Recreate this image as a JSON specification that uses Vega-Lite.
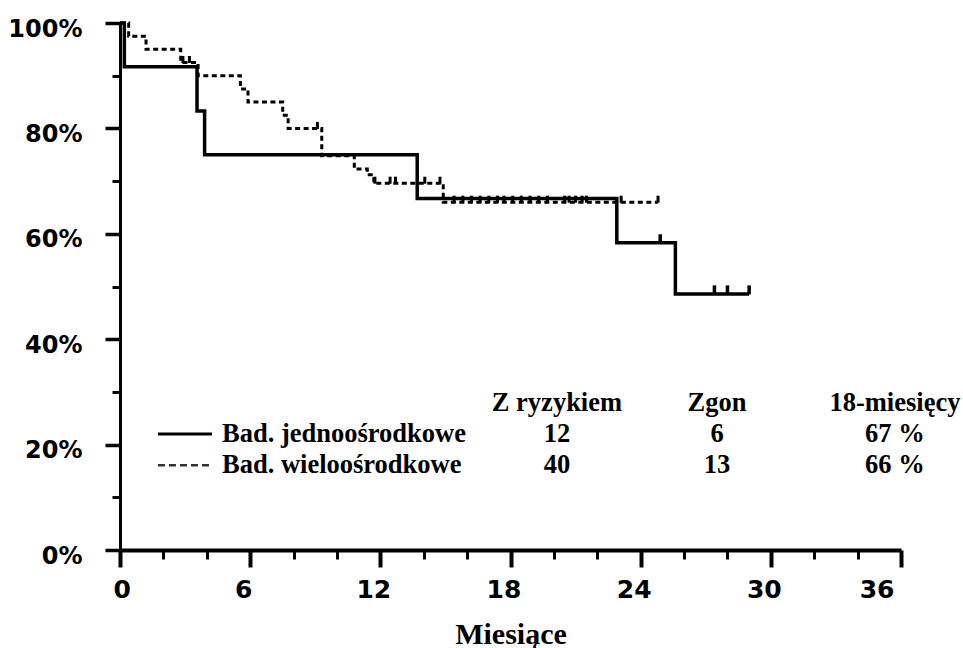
{
  "$schema": "https://vega.github.io/schema/vega-lite/v6.json",
  "width": 781,
  "height": 527,
  "autosize": {"type": "none"},
  "padding": {"left": 120, "top": 23, "right": 62, "bottom": 98},
  "background": "white",
  "config": {
    "view": {"stroke": null},
    "axis": {"grid": false, "domainColor": "black", "tickColor": "black", "labelColor": "black", "titleColor": "black"}
  },
  "datasets": {
    "km": [
      {"group": "Bad. jednoośrodkowe", "month": 0, "survival": 100},
      {"group": "Bad. jednoośrodkowe", "month": 0.2, "survival": 91.7},
      {"group": "Bad. jednoośrodkowe", "month": 3.55, "survival": 83.3},
      {"group": "Bad. jednoośrodkowe", "month": 3.9, "survival": 75},
      {"group": "Bad. jednoośrodkowe", "month": 13.7, "survival": 66.7},
      {"group": "Bad. jednoośrodkowe", "month": 22.9, "survival": 58.3},
      {"group": "Bad. jednoośrodkowe", "month": 25.6, "survival": 48.6},
      {"group": "Bad. jednoośrodkowe", "month": 29.0, "survival": 48.6},
      {"group": "Bad. wieloośrodkowe", "month": 0, "survival": 100},
      {"group": "Bad. wieloośrodkowe", "month": 0.4, "survival": 97.5},
      {"group": "Bad. wieloośrodkowe", "month": 1.2, "survival": 95},
      {"group": "Bad. wieloośrodkowe", "month": 2.8, "survival": 92.5},
      {"group": "Bad. wieloośrodkowe", "month": 3.6, "survival": 90},
      {"group": "Bad. wieloośrodkowe", "month": 5.55, "survival": 87.5},
      {"group": "Bad. wieloośrodkowe", "month": 5.9, "survival": 85},
      {"group": "Bad. wieloośrodkowe", "month": 7.5, "survival": 82.5},
      {"group": "Bad. wieloośrodkowe", "month": 7.75, "survival": 80},
      {"group": "Bad. wieloośrodkowe", "month": 9.3, "survival": 74.8},
      {"group": "Bad. wieloośrodkowe", "month": 10.8, "survival": 72.3},
      {"group": "Bad. wieloośrodkowe", "month": 11.4, "survival": 71.2},
      {"group": "Bad. wieloośrodkowe", "month": 11.7, "survival": 69.6},
      {"group": "Bad. wieloośrodkowe", "month": 14.9, "survival": 66},
      {"group": "Bad. wieloośrodkowe", "month": 24.8, "survival": 66}
    ],
    "censored": [
      {"group": "Bad. jednoośrodkowe", "month": 24.9, "survival": 58.3},
      {"group": "Bad. jednoośrodkowe", "month": 27.4, "survival": 48.6},
      {"group": "Bad. jednoośrodkowe", "month": 28.0, "survival": 48.6},
      {"group": "Bad. jednoośrodkowe", "month": 29.0, "survival": 48.6},
      {"group": "Bad. wieloośrodkowe", "month": 2.9, "survival": 92.5},
      {"group": "Bad. wieloośrodkowe", "month": 3.2, "survival": 92.5},
      {"group": "Bad. wieloośrodkowe", "month": 9.1, "survival": 80},
      {"group": "Bad. wieloośrodkowe", "month": 11.75, "survival": 69.6},
      {"group": "Bad. wieloośrodkowe", "month": 12.45, "survival": 69.6},
      {"group": "Bad. wieloośrodkowe", "month": 12.7, "survival": 69.6},
      {"group": "Bad. wieloośrodkowe", "month": 14.05, "survival": 69.6},
      {"group": "Bad. wieloośrodkowe", "month": 14.75, "survival": 69.6},
      {"group": "Bad. wieloośrodkowe", "month": 15.4, "survival": 66},
      {"group": "Bad. wieloośrodkowe", "month": 15.8, "survival": 66},
      {"group": "Bad. wieloośrodkowe", "month": 16.2, "survival": 66},
      {"group": "Bad. wieloośrodkowe", "month": 16.6, "survival": 66},
      {"group": "Bad. wieloośrodkowe", "month": 17.0, "survival": 66},
      {"group": "Bad. wieloośrodkowe", "month": 17.4, "survival": 66},
      {"group": "Bad. wieloośrodkowe", "month": 17.7, "survival": 66},
      {"group": "Bad. wieloośrodkowe", "month": 18.1, "survival": 66},
      {"group": "Bad. wieloośrodkowe", "month": 18.5, "survival": 66},
      {"group": "Bad. wieloośrodkowe", "month": 18.9, "survival": 66},
      {"group": "Bad. wieloośrodkowe", "month": 19.3, "survival": 66},
      {"group": "Bad. wieloośrodkowe", "month": 19.7, "survival": 66},
      {"group": "Bad. wieloośrodkowe", "month": 20.5, "survival": 66},
      {"group": "Bad. wieloośrodkowe", "month": 20.7, "survival": 66},
      {"group": "Bad. wieloośrodkowe", "month": 21.0, "survival": 66},
      {"group": "Bad. wieloośrodkowe", "month": 21.3, "survival": 66},
      {"group": "Bad. wieloośrodkowe", "month": 21.5, "survival": 66},
      {"group": "Bad. wieloośrodkowe", "month": 23.1, "survival": 66},
      {"group": "Bad. wieloośrodkowe", "month": 24.8, "survival": 66}
    ],
    "legendLines": [
      {"group": "Bad. jednoośrodkowe", "month": 1.75, "month2": 4.24, "survival": 22.0},
      {"group": "Bad. wieloośrodkowe", "month": 1.75, "month2": 4.24, "survival": 16.1}
    ],
    "legendLabels": [
      {"text": "Bad. jednoośrodkowe", "month": 4.7, "survival": 22.0},
      {"text": "Bad. wieloośrodkowe", "month": 4.7, "survival": 16.1}
    ],
    "table": [
      {"text": "Z ryzykiem", "month": 20.14, "survival": 27.9},
      {"text": "Zgon", "month": 27.52, "survival": 27.9},
      {"text": "18-miesięcy", "month": 35.72, "survival": 27.9},
      {"text": "12", "month": 20.14, "survival": 22.0},
      {"text": "6", "month": 27.52, "survival": 22.0},
      {"text": "67 %", "month": 35.72, "survival": 22.0},
      {"text": "40", "month": 20.14, "survival": 16.1},
      {"text": "13", "month": 27.52, "survival": 16.1},
      {"text": "66 %", "month": 35.72, "survival": 16.1}
    ]
  },
  "resolve": {"axis": {"x": "independent", "y": "independent"}},
  "layer": [
    {
      "data": {"name": "km"},
      "transform": [{"filter": "datum.group === 'Bad. wieloośrodkowe'"}],
      "mark": {"type": "line", "interpolate": "step-after", "color": "black", "strokeWidth": 3, "strokeDash": [5, 3.5]},
      "encoding": {
        "x": {"field": "month", "type": "quantitative", "scale": {"domain": [0, 36], "nice": false},
              "axis": {"orient": "bottom", "values": [2, 4, 8, 10, 14, 16, 20, 22, 26, 28, 32, 34], "tickSize": 9, "tickWidth": 3, "labels": false, "domain": false, "title": null}},
        "y": {"field": "survival", "type": "quantitative", "scale": {"domain": [0, 100], "nice": false},
              "axis": {"orient": "left", "values": [10, 30, 50, 70, 90], "tickSize": 8, "tickWidth": 3, "labels": false, "domain": false, "title": null}}
      }
    },
    {
      "data": {"name": "km"},
      "transform": [{"filter": "datum.group === 'Bad. jednoośrodkowe'"}],
      "mark": {"type": "line", "interpolate": "step-after", "color": "black", "strokeWidth": 3.5},
      "encoding": {
        "x": {"field": "month", "type": "quantitative",
              "axis": {"orient": "bottom", "values": [0, 6, 12, 18, 24, 30, 36], "tickSize": 17, "tickWidth": 4, "domainWidth": 4,
                       "labelFont": "DejaVu Sans", "labelFontWeight": "bold", "labelFontSize": 25, "labelPadding": 10, "labelOffset": -7,
                       "title": "Miesiące", "titleFont": "Liberation Serif", "titleFontSize": 30, "titleFontWeight": "bold", "titlePadding": 17}},
        "y": {"field": "survival", "type": "quantitative",
              "axis": {"orient": "left", "values": [0, 20, 40, 60, 80, 100], "tickSize": 15, "tickWidth": 3.5, "domainWidth": 3,
                       "labelExpr": "datum.value + '%'", "labelFont": "DejaVu Sans", "labelFontWeight": "bold", "labelFontSize": 24, "labelPadding": 23, "labelOffset": 6,
                       "title": null}}
      }
    },
    {
      "data": {"name": "censored"},
      "transform": [{"filter": "datum.group === 'Bad. jednoośrodkowe'"}],
      "mark": {"type": "tick", "orient": "vertical", "color": "black", "size": 9, "thickness": 3.5, "yOffset": -4, "opacity": 1},
      "encoding": {
        "x": {"field": "month", "type": "quantitative", "axis": null},
        "y": {"field": "survival", "type": "quantitative", "axis": null}
      }
    },
    {
      "data": {"name": "censored"},
      "transform": [{"filter": "datum.group === 'Bad. wieloośrodkowe'"}],
      "mark": {"type": "tick", "orient": "vertical", "color": "black", "size": 7, "thickness": 3, "yOffset": -3, "opacity": 1},
      "encoding": {
        "x": {"field": "month", "type": "quantitative", "axis": null},
        "y": {"field": "survival", "type": "quantitative", "axis": null}
      }
    },
    {
      "data": {"name": "legendLines"},
      "transform": [{"filter": "datum.group === 'Bad. jednoośrodkowe'"}],
      "mark": {"type": "rule", "color": "black", "strokeWidth": 3},
      "encoding": {
        "x": {"field": "month", "type": "quantitative", "axis": null},
        "x2": {"field": "month2"},
        "y": {"field": "survival", "type": "quantitative", "axis": null}
      }
    },
    {
      "data": {"name": "legendLines"},
      "transform": [{"filter": "datum.group === 'Bad. wieloośrodkowe'"}],
      "mark": {"type": "rule", "color": "#333333", "strokeWidth": 2.5, "strokeDash": [7, 4]},
      "encoding": {
        "x": {"field": "month", "type": "quantitative", "axis": null},
        "x2": {"field": "month2"},
        "y": {"field": "survival", "type": "quantitative", "axis": null}
      }
    },
    {
      "data": {"name": "legendLabels"},
      "mark": {"type": "text", "align": "left", "baseline": "middle", "font": "Liberation Serif", "fontWeight": "bold", "fontSize": 26.5, "color": "black"},
      "encoding": {
        "x": {"field": "month", "type": "quantitative", "axis": null},
        "y": {"field": "survival", "type": "quantitative", "axis": null},
        "text": {"field": "text"}
      }
    },
    {
      "data": {"name": "table"},
      "mark": {"type": "text", "align": "center", "baseline": "middle", "font": "Liberation Serif", "fontWeight": "bold", "fontSize": 26.5, "color": "black"},
      "encoding": {
        "x": {"field": "month", "type": "quantitative", "axis": null},
        "y": {"field": "survival", "type": "quantitative", "axis": null},
        "text": {"field": "text"}
      }
    }
  ]
}
